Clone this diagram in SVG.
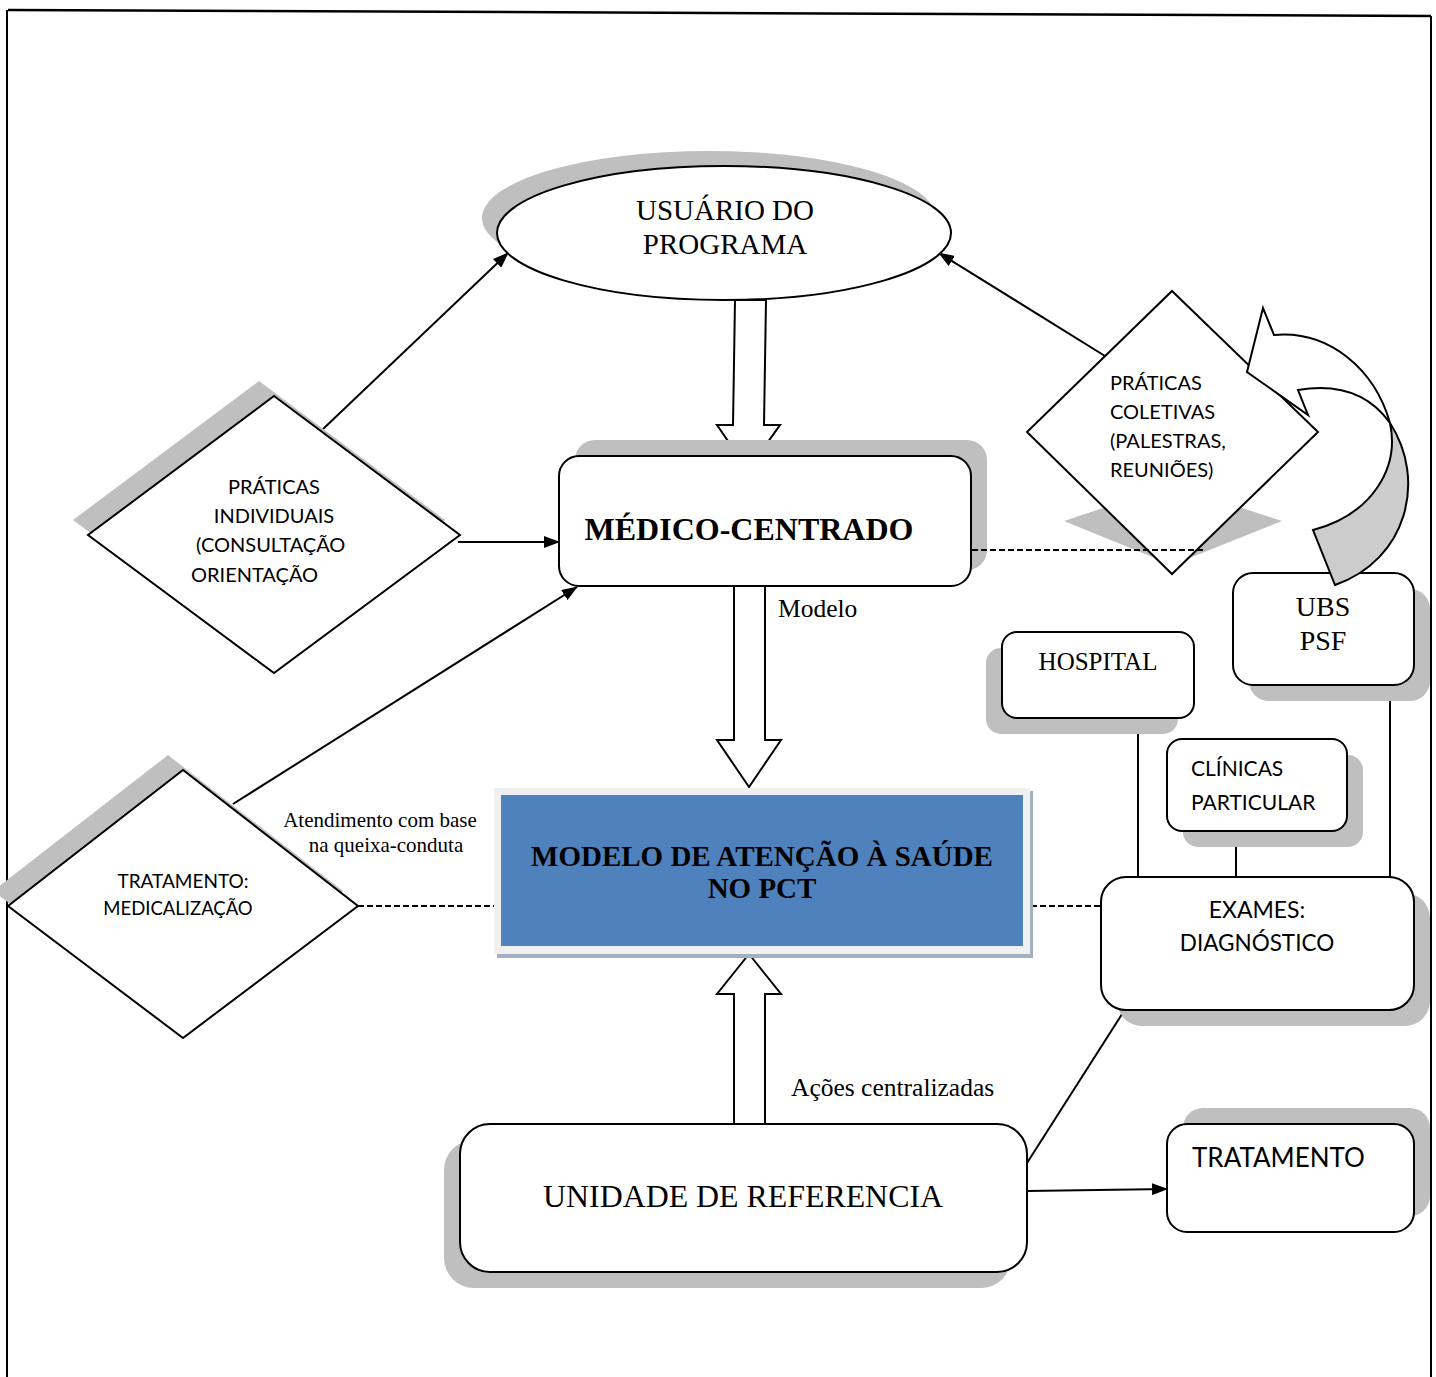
<svg xmlns="http://www.w3.org/2000/svg" width="1436" height="1377" viewBox="0 0 1436 1377">
<style>
.sh{fill:#bfbfbf;stroke:none}
.nd{fill:#fff;stroke:#000;stroke-width:2}
.ln{fill:none;stroke:#000;stroke-width:2}
.dash{fill:none;stroke:#000;stroke-width:2;stroke-dasharray:6 3}
.blk{fill:#fff;stroke:#000;stroke-width:2;stroke-linejoin:miter}
.serif{font-family:"Liberation Serif","Times New Roman",serif;fill:#000}
.sans{font-family:Lato,"Liberation Sans",sans-serif;fill:#000}
</style>
<defs>
<marker id="ah" markerWidth="16" markerHeight="12" refX="15" refY="6" orient="auto" markerUnits="userSpaceOnUse">
<path d="M0,0 L16,6 L0,12 Z" fill="#000"/>
</marker>
</defs>
<rect width="1436" height="1377" fill="#fff"/>
<g id="frame">
<line x1="8" y1="10" x2="1431" y2="16" stroke="#000" stroke-width="2.5"/>
<line x1="7" y1="10" x2="7" y2="1377" stroke="#000" stroke-width="2"/>
<line x1="1431" y1="16" x2="1431" y2="1377" stroke="#000" stroke-width="2"/>
</g>

<g id="connectors">
<path class="blk" d="M735,300 L766,300 L764,425 L780,425 L748,470 L717,425 L733,425 Z"/>
<path class="blk" d="M734,586 L765,586 L765,740 L781,740 L749,787 L717,740 L734,740 Z"/>
<path class="blk" d="M749,954 L781,994 L765,994 L765,1124 L734,1124 L734,994 L717,994 Z"/>
<line class="ln" x1="322" y1="430" x2="508" y2="253" marker-end="url(#ah)"/>
<line class="ln" x1="1105" y1="356" x2="939" y2="253" marker-end="url(#ah)"/>
<line class="ln" x1="458" y1="542" x2="559" y2="542" marker-end="url(#ah)"/>
<line class="ln" x1="233" y1="804" x2="577" y2="587" marker-end="url(#ah)"/>
<line class="ln" x1="1027" y1="1191" x2="1167" y2="1189" marker-end="url(#ah)"/>
<line class="ln" x1="1027" y1="1163" x2="1124" y2="1011"/>
<line class="dash" x1="358" y1="906" x2="494" y2="906"/>
<line class="dash" x1="1031" y1="906" x2="1101" y2="906"/>
<line class="ln" x1="1138" y1="718" x2="1138" y2="877"/>
<line class="ln" x1="1236" y1="843" x2="1236" y2="877"/>
<line class="ln" x1="1390" y1="685" x2="1390" y2="877"/>
</g>

<g id="usuario">
<ellipse class="sh" cx="709" cy="218" rx="227" ry="67"/>
<ellipse class="nd" cx="724" cy="233" rx="227" ry="67"/>
<text class="serif" x="725" y="220" font-size="29" text-anchor="middle">USUÁRIO DO</text>
<text class="serif" x="725" y="254" font-size="29" text-anchor="middle">PROGRAMA</text>
</g>

<g id="medico">
<rect class="sh" x="575" y="440" width="412" height="130" rx="20"/>
<rect class="nd" x="559" y="456" width="412" height="130" rx="20"/>
<text class="serif" x="749" y="540" font-size="32" font-weight="bold" text-anchor="middle">MÉDICO-CENTRADO</text>
</g>

<g id="praticas-individuais">
<polygon class="sh" points="259,381 445,520 259,658 73,520"/>
<polygon class="nd" points="274,396 460,535 274,673 88,535"/>
<text class="sans" x="274" y="494" font-size="20" text-anchor="middle">PRÁTICAS</text>
<text class="sans" x="274" y="523" font-size="20" text-anchor="middle">INDIVIDUAIS</text>
<text class="sans" x="196" y="552" font-size="20">(CONSULTAÇÃO</text>
<text class="sans" x="191" y="582" font-size="20">ORIENTAÇÃO</text>
</g>

<g id="tratamento-medicalizacao">
<polygon class="sh" points="168,755 343,891 168,1023 -7,891"/>
<polygon class="nd" points="183,770 358,906 183,1038 8,906"/>
<text class="sans" x="183" y="888" font-size="19" text-anchor="middle">TRATAMENTO:</text>
<text class="sans" x="178" y="915" font-size="18.5" text-anchor="middle">MEDICALIZAÇÃO</text>
</g>

<g id="label-atendimento">
<text class="serif" x="380" y="827" font-size="21" text-anchor="middle">Atendimento com base</text>
<text class="serif" x="386" y="852" font-size="21" text-anchor="middle">na queixa-conduta</text>
</g>
<text id="label-modelo" class="serif" x="778" y="617" font-size="25.5">Modelo</text>
<text id="label-acoes" class="serif" x="791" y="1096" font-size="25.5">Ações centralizadas</text>

<g id="praticas-coletivas">
<polygon class="sh" points="1064,521 1172,485 1282,521 1172,565"/>
<polygon class="nd" points="1172,291 1318,432 1172,574 1027,432"/>
<text class="sans" x="1110" y="390" font-size="20">PRÁTICAS</text>
<text class="sans" x="1110" y="419" font-size="20">COLETIVAS</text>
<text class="sans" x="1110" y="448" font-size="20">(PALESTRAS,</text>
<text class="sans" x="1110" y="477" font-size="20">REUNIÕES)</text>
</g>
<line class="dash" x1="972" y1="550" x2="1203" y2="550"/>

<g id="modelo-atencao">
<rect x="497" y="791" width="536" height="167" fill="#a3afc2"/>
<rect x="494" y="788" width="536" height="166" fill="#f0f0f0"/>
<rect x="501" y="795" width="522" height="151" fill="#4f81bd"/>
<text class="serif" x="762" y="866" font-size="29" font-weight="bold" text-anchor="middle">MODELO DE ATENÇÃO À SAÚDE</text>
<text class="serif" x="762" y="898" font-size="29" font-weight="bold" text-anchor="middle">NO PCT</text>
</g>

<g id="ubs-psf">
<rect class="sh" x="1249" y="589" width="181" height="112" rx="20"/>
<rect class="nd" x="1233" y="573" width="181" height="112" rx="20"/>
<text class="serif" x="1323" y="616" font-size="28" text-anchor="middle">UBS</text>
<text class="serif" x="1323" y="650" font-size="28" text-anchor="middle">PSF</text>
</g>

<g id="curved-arrow">
<path d="M1390,423 C1400,470 1370,515 1313,530 L1335,585 C1407,560 1427,480 1390,423 Z" fill="#cccccc" stroke="#000" stroke-width="2"/>
<path d="M1247,372 L1263,308 L1274,335 C1330,330 1375,370 1390,423 C1370,395 1340,383 1298,390 L1308,415 Z" fill="#fff" stroke="#000" stroke-width="2" stroke-linejoin="miter"/>
</g>

<g id="hospital">
<rect class="sh" x="986" y="648" width="192" height="86" rx="15"/>
<rect class="nd" x="1002" y="632" width="192" height="86" rx="15"/>
<text class="serif" x="1098" y="670" font-size="25" text-anchor="middle">HOSPITAL</text>
</g>

<g id="clinicas">
<rect class="sh" x="1183" y="755" width="180" height="92" rx="15"/>
<rect class="nd" x="1167" y="739" width="180" height="92" rx="15"/>
<text class="sans" x="1191" y="776" font-size="21">CLÍNICAS</text>
<text class="sans" x="1191" y="810" font-size="21">PARTICULAR</text>
</g>

<g id="exames">
<rect class="sh" x="1117" y="893" width="313" height="133" rx="25"/>
<rect class="nd" x="1101" y="877" width="313" height="133" rx="25"/>
<text class="sans" x="1257" y="918" font-size="23" text-anchor="middle">EXAMES:</text>
<text class="sans" x="1257" y="951" font-size="22.5" text-anchor="middle">DIAGNÓSTICO</text>
</g>

<g id="unidade">
<rect class="sh" x="444" y="1140" width="567" height="148" rx="30"/>
<rect class="nd" x="460" y="1124" width="567" height="148" rx="30"/>
<text class="serif" x="743" y="1207" font-size="32" text-anchor="middle" textLength="400" lengthAdjust="spacingAndGlyphs">UNIDADE DE REFERENCIA</text>
</g>

<g id="tratamento">
<rect class="sh" x="1183" y="1108" width="247" height="108" rx="20"/>
<rect class="nd" x="1167" y="1124" width="247" height="108" rx="20"/>
<text class="sans" x="1192" y="1167" font-size="26">TRATAMENTO</text>
</g>
</svg>
